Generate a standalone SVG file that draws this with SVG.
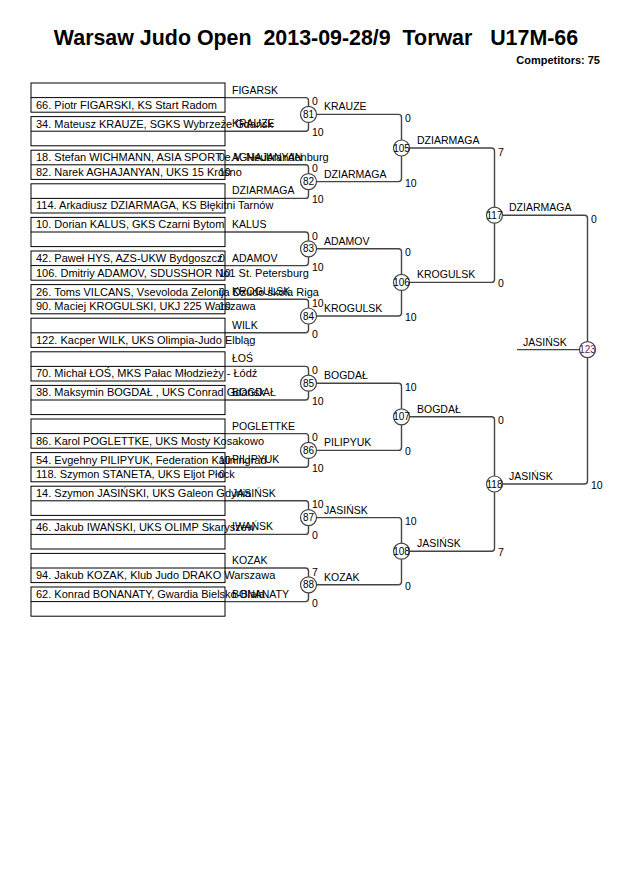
<svg xmlns="http://www.w3.org/2000/svg" width="630" height="891" viewBox="0 0 630 891">
<style>
text{font-family:"Liberation Sans",Arial,sans-serif;font-size:10.5px;fill:#000}
.title{font-size:21.4px;font-weight:bold}
.comp{font-size:11px;font-weight:bold;text-anchor:end}
.p{font-size:11px}
.box{fill:none;stroke:#000;stroke-width:1}
.ln{fill:none;stroke:#444;stroke-width:1.4}
.c{fill:#fff;stroke:#444;stroke-width:1.2}
.n{text-anchor:middle;font-size:10px}
.s{font-size:10.5px}
</style>
<rect width="630" height="891" fill="#fff"/>
<text class="title" x="316" y="45" text-anchor="middle" xml:space="preserve">Warsaw Judo Open  2013-09-28/9  Torwar   U17M-66</text>
<text class="comp" x="600" y="64">Competitors: 75</text>

<g id="connectors">
<path class="ln" d="M225 97.6H305.5Q308.5 97.6 308.5 100.6V106.4M225 131.2H305.5Q308.5 131.2 308.5 128.2V122.4"/>
<path class="ln" d="M225 164.8H305.5Q308.5 164.8 308.5 167.8V173.6M225 198.4H305.5Q308.5 198.4 308.5 195.4V189.6"/>
<path class="ln" d="M225 232H305.5Q308.5 232 308.5 235V240.8M225 265.6H305.5Q308.5 265.6 308.5 262.6V256.8"/>
<path class="ln" d="M225 299.2H305.5Q308.5 299.2 308.5 302.2V308M225 332.8H305.5Q308.5 332.8 308.5 329.8V324"/>
<path class="ln" d="M225 366.4H305.5Q308.5 366.4 308.5 369.4V375.2M225 400H305.5Q308.5 400 308.5 397V391.2"/>
<path class="ln" d="M225 433.6H305.5Q308.5 433.6 308.5 436.6V442.4M225 467.2H305.5Q308.5 467.2 308.5 464.2V458.4"/>
<path class="ln" d="M225 500.8H305.5Q308.5 500.8 308.5 503.8V509.6M225 534.4H305.5Q308.5 534.4 308.5 531.4V525.6"/>
<path class="ln" d="M225 568H305.5Q308.5 568 308.5 571V576.8M225 601.6H305.5Q308.5 601.6 308.5 598.6V592.8"/>
<path class="ln" d="M316.5 114.4H398.5Q401.5 114.4 401.5 117.4V140M316.5 181.6H398.5Q401.5 181.6 401.5 178.6V156"/>
<path class="ln" d="M316.5 248.8H398.5Q401.5 248.8 401.5 251.8V274.4M316.5 316H398.5Q401.5 316 401.5 313V290.4"/>
<path class="ln" d="M316.5 383.2H398.5Q401.5 383.2 401.5 386.2V408.8M316.5 450.4H398.5Q401.5 450.4 401.5 447.4V424.8"/>
<path class="ln" d="M316.5 517.6H398.5Q401.5 517.6 401.5 520.6V543.2M316.5 584.8H398.5Q401.5 584.8 401.5 581.8V559.2"/>
<path class="ln" d="M409.5 148H491.5Q494.5 148 494.5 151V207.2M409.5 282.4H491.5Q494.5 282.4 494.5 279.4V223.2"/>
<path class="ln" d="M409.5 416.8H491.5Q494.5 416.8 494.5 419.8V476M409.5 551.2H491.5Q494.5 551.2 494.5 548.2V492"/>
<path class="ln" d="M502.5 215.2H584.5Q587.5 215.2 587.5 218.2V341.6M502.5 484H584.5Q587.5 484 587.5 481V357.6"/>
<path class="ln" d="M517 349.6H579.5"/>
</g>

<g id="entries">
<g id="box0"><rect class="box" x="31" y="83" width="194" height="29.2"/><line class="box" x1="31" y1="97.6" x2="225" y2="97.6"/><text class="p" x="36" y="108.6">66. Piotr FIGARSKI, KS Start Radom</text><text x="232" y="93.6">FIGARSK</text></g>
<g id="box1"><rect class="box" x="31" y="116.6" width="194" height="29.2"/><line class="box" x1="31" y1="131.2" x2="225" y2="131.2"/><text class="p" x="36" y="127.6">34. Mateusz KRAUZE, SGKS Wybrzeże Gdańsk</text><text x="232" y="127.2">KRAUZE</text></g>
<g id="box2"><rect class="box" x="31" y="150.2" width="194" height="29.2"/><line class="box" x1="31" y1="164.8" x2="225" y2="164.8"/><text class="p" x="36" y="161.2">18. Stefan WICHMANN, ASIA SPORT e.V. Neubrandenburg</text><text class="p" x="36" y="175.8">82. Narek AGHAJANYAN, UKS 15 Krośno</text><text class="s" x="219" y="161.2">0</text><text class="s" x="219" y="175.8">10</text><text x="232" y="160.8">AGHAJANYAN</text></g>
<g id="box3"><rect class="box" x="31" y="183.8" width="194" height="29.2"/><line class="box" x1="31" y1="198.4" x2="225" y2="198.4"/><text class="p" x="36" y="209.4">114. Arkadiusz DZIARMAGA, KS Błękitni Tarnów</text><text x="232" y="194.4">DZIARMAGA</text></g>
<g id="box4"><rect class="box" x="31" y="217.4" width="194" height="29.2"/><line class="box" x1="31" y1="232" x2="225" y2="232"/><text class="p" x="36" y="228.4">10. Dorian KALUS, GKS Czarni Bytom</text><text x="232" y="228">KALUS</text></g>
<g id="box5"><rect class="box" x="31" y="251" width="194" height="29.2"/><line class="box" x1="31" y1="265.6" x2="225" y2="265.6"/><text class="p" x="36" y="262">42. Paweł HYS, AZS-UKW Bydgoszcz</text><text class="p" x="36" y="276.6">106. Dmitriy ADAMOV, SDUSSHOR No1 St. Petersburg</text><text class="s" x="219" y="262">0</text><text class="s" x="219" y="276.6">10</text><text x="232" y="261.6">ADAMOV</text></g>
<g id="box6"><rect class="box" x="31" y="284.6" width="194" height="29.2"/><line class="box" x1="31" y1="299.2" x2="225" y2="299.2"/><text class="p" x="36" y="295.6">26. Toms VILCANS, Vsevoloda Zelonija Dzudo skola Riga</text><text class="p" x="36" y="310.2">90. Maciej KROGULSKI, UKJ 225 Warszawa</text><text class="s" x="219" y="295.6">0</text><text class="s" x="219" y="310.2">10</text><text x="232" y="295.2">KROGULSK</text></g>
<g id="box7"><rect class="box" x="31" y="318.2" width="194" height="29.2"/><line class="box" x1="31" y1="332.8" x2="225" y2="332.8"/><text class="p" x="36" y="343.8">122. Kacper WILK, UKS Olimpia-Judo Elbląg</text><text x="232" y="328.8">WILK</text></g>
<g id="box8"><rect class="box" x="31" y="351.8" width="194" height="29.2"/><line class="box" x1="31" y1="366.4" x2="225" y2="366.4"/><text class="p" x="36" y="377.4">70. Michał ŁOŚ, MKS Pałac Młodzieży - Łódź</text><text x="232" y="362.4">ŁOŚ</text></g>
<g id="box9"><rect class="box" x="31" y="385.4" width="194" height="29.2"/><line class="box" x1="31" y1="400" x2="225" y2="400"/><text class="p" x="36" y="396.4">38. Maksymin BOGDAŁ , UKS Conrad Gdańsk</text><text x="232" y="396">BOGDAŁ</text></g>
<g id="box10"><rect class="box" x="31" y="419" width="194" height="29.2"/><line class="box" x1="31" y1="433.6" x2="225" y2="433.6"/><text class="p" x="36" y="444.6">86. Karol POGLETTKE, UKS Mosty Kosakowo</text><text x="232" y="429.6">POGLETTKE</text></g>
<g id="box11"><rect class="box" x="31" y="452.6" width="194" height="29.2"/><line class="box" x1="31" y1="467.2" x2="225" y2="467.2"/><text class="p" x="36" y="463.6">54. Evgehny PILIPYUK, Federation Kaliningrad</text><text class="p" x="36" y="478.2">118. Szymon STANETA, UKS Eljot Płock</text><text class="s" x="219" y="463.6">10</text><text class="s" x="219" y="478.2">0</text><text x="232" y="463.2">PILIPYUK</text></g>
<g id="box12"><rect class="box" x="31" y="486.2" width="194" height="29.2"/><line class="box" x1="31" y1="500.8" x2="225" y2="500.8"/><text class="p" x="36" y="497.2">14. Szymon JASIŃSKI, UKS Galeon Gdynia</text><text x="232" y="496.8">JASIŃSK</text></g>
<g id="box13"><rect class="box" x="31" y="519.8" width="194" height="29.2"/><line class="box" x1="31" y1="534.4" x2="225" y2="534.4"/><text class="p" x="36" y="530.8">46. Jakub IWAŃSKI, UKS OLIMP Skaryszew</text><text x="232" y="530.4">IWAŃSK</text></g>
<g id="box14"><rect class="box" x="31" y="553.4" width="194" height="29.2"/><line class="box" x1="31" y1="568" x2="225" y2="568"/><text class="p" x="36" y="579">94. Jakub KOZAK, Klub Judo DRAKO Warszawa</text><text x="232" y="564">KOZAK</text></g>
<g id="box15"><rect class="box" x="31" y="587" width="194" height="29.2"/><line class="box" x1="31" y1="601.6" x2="225" y2="601.6"/><text class="p" x="36" y="598">62. Konrad BONANATY, Gwardia Bielsko-Biała</text><text x="232" y="597.6">BONANATY</text></g>
</g>

<g id="matches">
<g id="m81"><circle class="c" cx="308.5" cy="114.4" r="8"/><text class="n" x="308.5" y="118">81</text><text class="s" x="312" y="105.1">0</text><text class="s" x="312" y="136.2">10</text><text x="324" y="110.4">KRAUZE</text></g>
<g id="m82"><circle class="c" cx="308.5" cy="181.6" r="8"/><text class="n" x="308.5" y="185.2">82</text><text class="s" x="312" y="172.3">0</text><text class="s" x="312" y="203.4">10</text><text x="324" y="177.6">DZIARMAGA</text></g>
<g id="m83"><circle class="c" cx="308.5" cy="248.8" r="8"/><text class="n" x="308.5" y="252.4">83</text><text class="s" x="312" y="239.5">0</text><text class="s" x="312" y="270.6">10</text><text x="324" y="244.8">ADAMOV</text></g>
<g id="m84"><circle class="c" cx="308.5" cy="316" r="8"/><text class="n" x="308.5" y="319.6">84</text><text class="s" x="312" y="306.7">10</text><text class="s" x="312" y="337.8">0</text><text x="324" y="312">KROGULSK</text></g>
<g id="m85"><circle class="c" cx="308.5" cy="383.2" r="8"/><text class="n" x="308.5" y="386.8">85</text><text class="s" x="312" y="373.9">0</text><text class="s" x="312" y="405">10</text><text x="324" y="379.2">BOGDAŁ</text></g>
<g id="m86"><circle class="c" cx="308.5" cy="450.4" r="8"/><text class="n" x="308.5" y="454">86</text><text class="s" x="312" y="441.1">0</text><text class="s" x="312" y="472.2">10</text><text x="324" y="446.4">PILIPYUK</text></g>
<g id="m87"><circle class="c" cx="308.5" cy="517.6" r="8"/><text class="n" x="308.5" y="521.2">87</text><text class="s" x="312" y="508.3">10</text><text class="s" x="312" y="539.4">0</text><text x="324" y="513.6">JASIŃSK</text></g>
<g id="m88"><circle class="c" cx="308.5" cy="584.8" r="8"/><text class="n" x="308.5" y="588.4">88</text><text class="s" x="312" y="575.5">7</text><text class="s" x="312" y="606.6">0</text><text x="324" y="580.8">KOZAK</text></g>
<g id="m105"><circle class="c" cx="401.5" cy="148" r="8"/><text class="n" x="401.5" y="151.6">105</text><text class="s" x="405" y="121.9">0</text><text class="s" x="405" y="186.6">10</text><text x="417" y="144">DZIARMAGA</text></g>
<g id="m106"><circle class="c" cx="401.5" cy="282.4" r="8"/><text class="n" x="401.5" y="286">106</text><text class="s" x="405" y="256.3">0</text><text class="s" x="405" y="321">10</text><text x="417" y="278.4">KROGULSK</text></g>
<g id="m107"><circle class="c" cx="401.5" cy="416.8" r="8"/><text class="n" x="401.5" y="420.4">107</text><text class="s" x="405" y="390.7">10</text><text class="s" x="405" y="455.4">0</text><text x="417" y="412.8">BOGDAŁ</text></g>
<g id="m108"><circle class="c" cx="401.5" cy="551.2" r="8"/><text class="n" x="401.5" y="554.8">108</text><text class="s" x="405" y="525.1">10</text><text class="s" x="405" y="589.8">0</text><text x="417" y="547.2">JASIŃSK</text></g>
<g id="m117"><circle class="c" cx="494.5" cy="215.2" r="8"/><text class="n" x="494.5" y="218.8">117</text><text class="s" x="498" y="155.5">7</text><text class="s" x="498" y="287.4">0</text><text x="509" y="211.2">DZIARMAGA</text></g>
<g id="m118"><circle class="c" cx="494.5" cy="484" r="8"/><text class="n" x="494.5" y="487.6">118</text><text class="s" x="498" y="424.3">0</text><text class="s" x="498" y="556.2">7</text><text x="509" y="480">JASIŃSK</text></g>
<g id="m123"><circle class="c" cx="587.5" cy="349.6" r="8"/><text class="n" x="587.5" y="353.2" style="fill:#5a1e6e">123</text><text class="s" x="591" y="222.7">0</text><text class="s" x="591" y="489">10</text><text x="523" y="345.6">JASIŃSK</text></g>
</g>
</svg>
